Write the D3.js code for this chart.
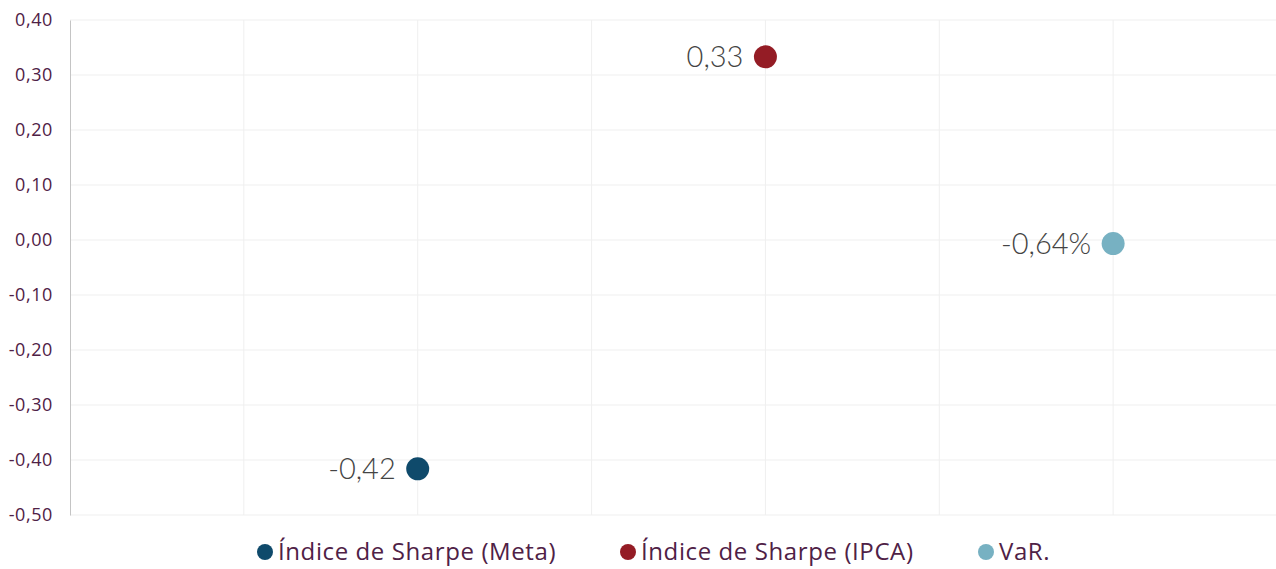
<!DOCTYPE html>
<html>
<head>
<meta charset="utf-8">
<script src="https://cdn.jsdelivr.net/npm/d3@7"></script>
<style>
  body { margin: 0; background: #fff; }
  svg { display: block; }
</style>
</head>
<body>
<svg id="chart"></svg>
<script>
// dados do gráfico
const series = ["Índice de Sharpe (Meta)", "Índice de Sharpe (IPCA)", "VaR."];
const xPos = [2, 4, 6];
const values = [-0.416, 0.333, -0.0064];
const labels = ["-0,42", "0,33", "-0,64%"];
const colors = ["#0f4a6b", "#941c25", "#77b1c2"];
const yTicks = [-0.5, -0.4, -0.3, -0.2, -0.1, 0, 0.1, 0.2, 0.3, 0.4];

const width = 1276;
const height = 569;
const MARGINS = { top: 20, right: -11, bottom: 54, left: 70 };

const svg = d3.select("#chart").attr("width", width).attr("height", height);

const x = d3.scaleLinear().domain([0, 7]).range([MARGINS.left, width - MARGINS.right]);
const y = d3.scaleLinear().domain([-0.5, 0.4]).range([height - MARGINS.bottom, MARGINS.top]);

const fmt = (d) => d3.format(".2f")(d).replace(".", ",").replace("−", "-");

// grade
svg.append("g")
  .selectAll("line")
  .data(yTicks)
  .join("line")
  .attr("x1", MARGINS.left)
  .attr("x2", width)
  .attr("y1", (d) => y(d))
  .attr("y2", (d) => y(d))
  .attr("stroke", "#efefef");

svg.append("g")
  .selectAll("line")
  .data(d3.range(1, 7))
  .join("line")
  .attr("x1", (d) => x(d))
  .attr("x2", (d) => x(d))
  .attr("y1", y(0.4))
  .attr("y2", y(-0.5))
  .attr("stroke", "#efefef");

// eixo y
const yAxis = svg.append("g")
  .attr("transform", `translate(${MARGINS.left},0)`)
  .call(d3.axisLeft(y).tickValues(yTicks).tickFormat(fmt).tickSize(0).tickPadding(17));
yAxis.select(".domain").attr("stroke", "#c4c4c4");
yAxis.selectAll("text")
  .attr("fill", "#4f2146")
  .style("font-family", "'Open Sans', sans-serif")
  .style("font-weight", 500)
  .style("letter-spacing", "0.6px")
  .style("font-size", "18px");

// pontos
const g = svg.append("g");
g.selectAll("circle")
  .data(values)
  .join("circle")
  .attr("cx", (d, i) => x(xPos[i]))
  .attr("cy", (d) => y(d))
  .attr("r", 11.5)
  .attr("fill", (d, i) => colors[i]);

g.selectAll("text")
  .data(values)
  .join("text")
  .attr("x", (d, i) => x(xPos[i]) - 22)
  .attr("y", (d) => y(d))
  .attr("dy", "0.36em")
  .attr("text-anchor", "end")
  .attr("fill", "#444")
  .style("font-family", "Lato, sans-serif")
  .style("font-weight", 300)
  .style("font-size", "29px")
  .text((d, i) => labels[i]);

// legenda
const legendX = [265, 628, 986];
const legend = svg.append("g")
  .selectAll("g")
  .data(series)
  .join("g")
  .attr("transform", (d, i) => `translate(${legendX[i]},552)`);

legend.append("circle")
  .attr("r", 8)
  .attr("fill", (d, i) => colors[i]);

legend.append("text")
  .attr("x", 13)
  .attr("dy", "0.35em")
  .attr("fill", "#4f2146")
  .style("font-family", "'Open Sans', sans-serif")
  .style("font-size", "24px")
  .style("letter-spacing", "0.6px")
  .text((d) => d);
</script>
</body>
</html>
